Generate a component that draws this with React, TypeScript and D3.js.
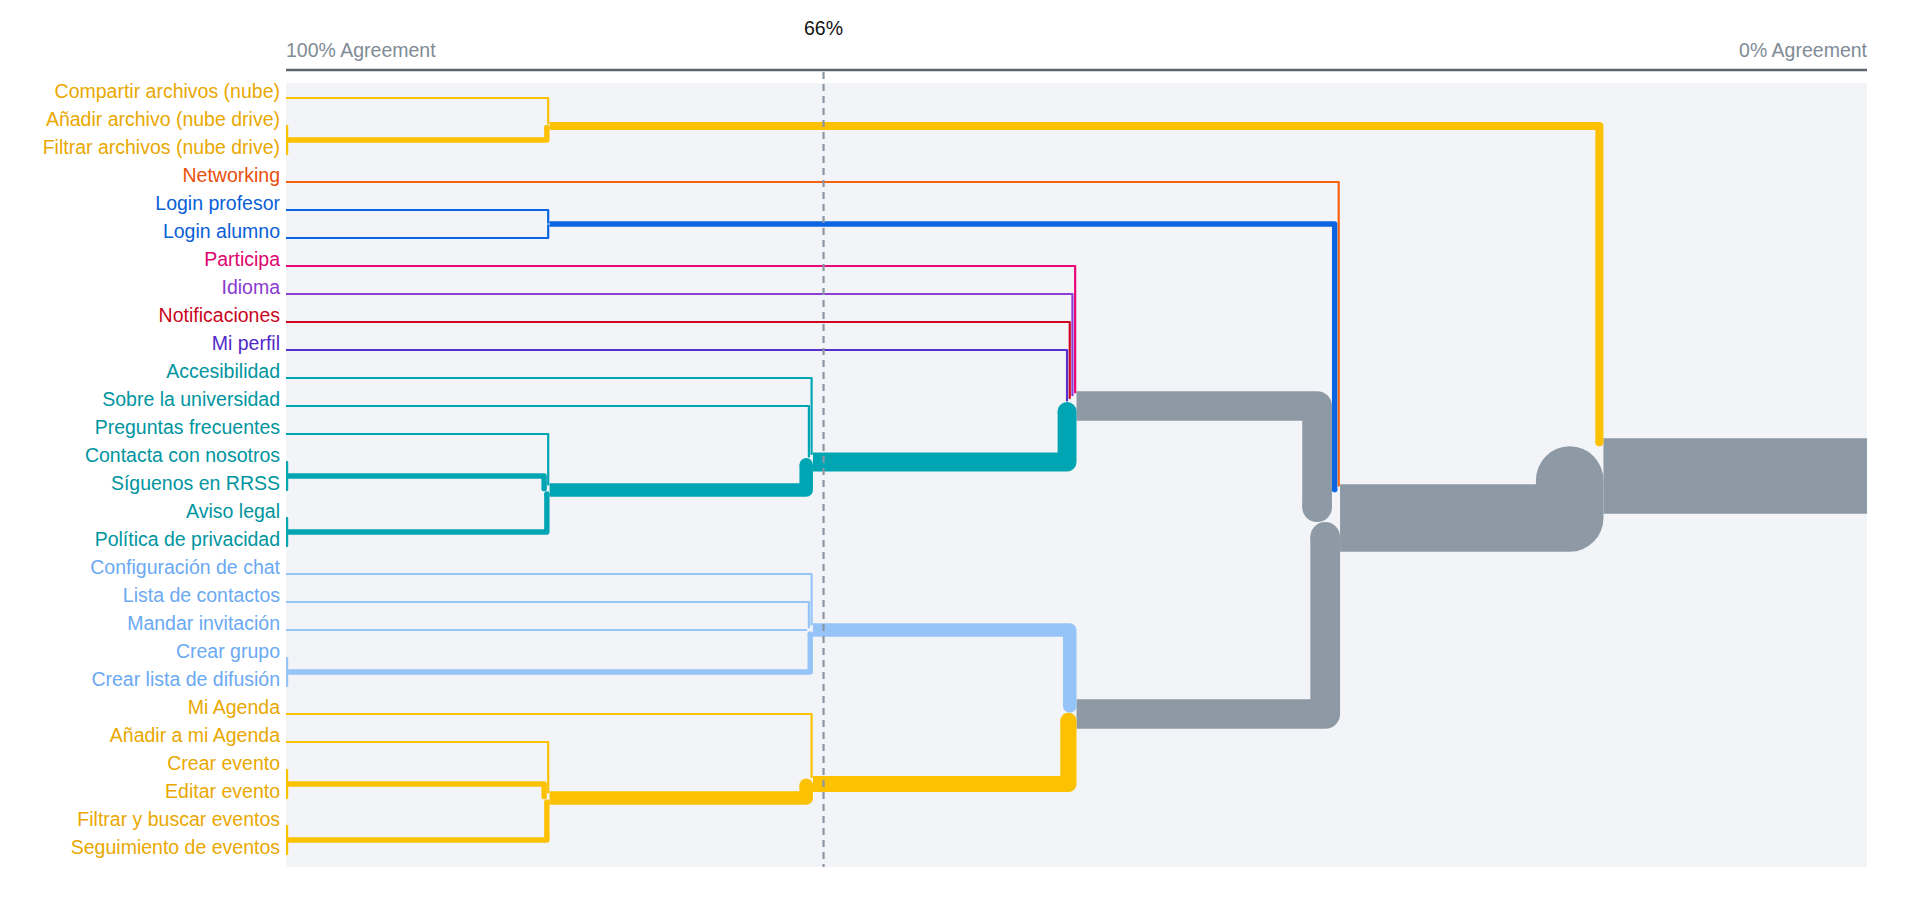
import React from "react";
import * as d3 from "d3";

// ---------- data ----------
const labels: string[] = [
  "Compartir archivos (nube)",
  "Añadir archivo (nube drive)",
  "Filtrar archivos (nube drive)",
  "Networking",
  "Login profesor",
  "Login alumno",
  "Participa",
  "Idioma",
  "Notificaciones",
  "Mi perfil",
  "Accesibilidad",
  "Sobre la universidad",
  "Preguntas frecuentes",
  "Contacta con nosotros",
  "Síguenos en RRSS",
  "Aviso legal",
  "Política de privacidad",
  "Configuración de chat",
  "Lista de contactos",
  "Mandar invitación",
  "Crear grupo",
  "Crear lista de difusión",
  "Mi Agenda",
  "Añadir a mi Agenda",
  "Crear evento",
  "Editar evento",
  "Filtrar y buscar eventos",
  "Seguimiento de eventos",
];

const leafGroups: string[] = [
  "files", "files", "files",
  "networking",
  "login", "login",
  "participa", "idioma", "notif", "perfil",
  "info", "info", "info", "info", "info", "info", "info",
  "chat", "chat", "chat", "chat", "chat",
  "agenda", "agenda", "agenda", "agenda", "agenda", "agenda",
];

// [cluster id, members, agreement % at which they join]
const merges: [string, string[], number][] = [
  ["files2", ["Añadir archivo (nube drive)", "Filtrar archivos (nube drive)"], 100],
  ["files", ["Compartir archivos (nube)", "files2"], 83.33],
  ["login", ["Login profesor", "Login alumno"], 83.33],
  ["contact2", ["Contacta con nosotros", "Síguenos en RRSS"], 100],
  ["legal2", ["Aviso legal", "Política de privacidad"], 100],
  ["info5", ["Preguntas frecuentes", "contact2", "legal2"], 83.33],
  ["info7", ["Accesibilidad", "Sobre la universidad", "info5"], 66.67],
  ["chat2", ["Crear grupo", "Crear lista de difusión"], 100],
  ["chat5", ["Configuración de chat", "Lista de contactos", "Mandar invitación", "chat2"], 66.67],
  ["ev2a", ["Crear evento", "Editar evento"], 100],
  ["ev2b", ["Filtrar y buscar eventos", "Seguimiento de eventos"], 100],
  ["ev5", ["Añadir a mi Agenda", "ev2a", "ev2b"], 83.33],
  ["ev6", ["Mi Agenda", "ev5"], 66.67],
  ["upper", ["Participa", "Idioma", "Notificaciones", "Mi perfil", "info7"], 50],
  ["lower", ["chat5", "ev6"], 50],
  ["main", ["Networking", "login", "upper", "lower"], 33.33],
  ["root", ["files", "main"], 16.67],
];

const threshold = 66;
const axisLeftLabel = "100% Agreement";
const axisRightLabel = "0% Agreement";

// ---------- styles ----------
const groupColors: Record<string, { line: string; text: string }> = {
  files: { line: "#fbc102", text: "#e9a800" },
  networking: { line: "#f5620f", text: "#ea4f0b" },
  login: { line: "#0b65e0", text: "#0a60d8" },
  participa: { line: "#e8087a", text: "#e0046e" },
  idioma: { line: "#8c3fd3", text: "#8a3acf" },
  notif: { line: "#d0061f", text: "#c9061c" },
  perfil: { line: "#5630cc", text: "#5229c6" },
  info: { line: "#00a5b3", text: "#00959f" },
  chat: { line: "#96c4f9", text: "#6ba9f3" },
  agenda: { line: "#fbc102", text: "#e9a800" },
};
const GREY = "#8d99a4";
const FONT = "'Liberation Sans', Arial, Helvetica, sans-serif";

const W = 1920;
const H = 902;
const plotLeft = 286;
const plotRight = 1867;
const plotTop = 83;
const plotBottom = 867;
const axisY = 70;
const UNIT = 2.7;
const LEAF_W = 2.2;

export default function App() {
  const xScale = d3.scaleLinear().domain([100, 0]).range([plotLeft, plotRight]);
  const yScale = d3.scalePoint<string>().domain(labels).range([98, 854]);

  // build tree
  const nodeMap: Record<string, any> = {};
  labels.forEach((l, i) => (nodeMap[l] = { name: l, group: leafGroups[i] }));
  merges.forEach(([id, kids, ag]) => {
    nodeMap[id] = { name: id, agreement: ag, children: kids.map((k) => nodeMap[k]) };
  });
  const root = d3.hierarchy<any>(nodeMap[merges[merges.length - 1][0]]);

  root.each((n: any) => {
    const lv = n.leaves();
    n.n = lv.length;
    n.y = d3.mean(lv, (l: any) => yScale(l.data.name) as number) as number;
    n.start = n.children ? xScale(n.data.agreement) : xScale(100);
    const groups = Array.from(new Set(lv.map((l: any) => l.data.group)));
    n.color = groups.length === 1 ? groupColors[groups[0] as string].line : GREY;
    n.sw = n.children ? UNIT * n.n : LEAF_W;
    n.slot = UNIT * n.n;
  });

  // slice layout for each parent
  root.each((p: any) => {
    if (!p.children) return;
    const X = p.start;
    const kids = [...p.children].sort((a: any, b: any) => a.y - b.y);
    let cursor = p.y - p.slot / 2;
    kids.forEach((c: any) => {
      c.endY = cursor + c.slot / 2;
      cursor += c.slot;
    });
    const above = kids.filter((c: any) => c.y <= c.endY);
    const below = kids.filter((c: any) => c.y > c.endY).reverse();
    [above, below].forEach((set) => {
      let right = X;
      set.forEach((c: any) => {
        c.vx = Math.max(right - c.slot / 2, c.start + c.sw / 2);
        right -= c.slot;
      });
    });
  });

  const nodes = root.descendants();

  return (
    <svg
      width={W}
      height={H}
      style={{ position: "absolute", left: 0, top: 0, display: "block", background: "#fff" }}
      fontFamily={FONT}
    >
      <rect x={plotLeft} y={plotTop} width={plotRight - plotLeft} height={plotBottom - plotTop} fill="#f3f4f7" />
      <line x1={plotLeft} x2={plotRight} y1={axisY} y2={axisY} stroke="#5b6670" strokeWidth={2.5} />
      <text x={plotLeft} y={57} fontSize={19.5} fill="#7f8b96">{axisLeftLabel}</text>
      <text x={plotRight} y={57} fontSize={19.5} fill="#7f8b96" textAnchor="end">{axisRightLabel}</text>

      <g>
        {nodes.map((n: any, i: number) => {
          if (!n.parent) {
            return (
              <path
                key={i}
                d={`M${n.start},${n.y}H${plotRight}`}
                stroke={n.color}
                strokeWidth={n.sw}
                fill="none"
              />
            );
          }
          return (
            <g key={i}>
              <path
                d={`M${n.start},${n.y}H${n.vx}V${n.endY}`}
                stroke={n.color}
                strokeWidth={n.sw}
                fill="none"
                strokeLinejoin="round"
                strokeLinecap="butt"
              />
              <circle cx={n.vx} cy={n.endY} r={n.sw / 2} fill={n.color} />
            </g>
          );
        })}
      </g>

      <line
        x1={xScale(threshold)}
        x2={xScale(threshold)}
        y1={axisY + 2}
        y2={plotBottom}
        stroke="#8a96a3"
        strokeWidth={2.2}
        strokeDasharray="7,5"
      />
      <text x={xScale(threshold)} y={35} fontSize={19.5} fill="#111" textAnchor="middle">
        {threshold}%
      </text>

      <g>
        {labels.map((l, i) => (
          <text
            key={l}
            x={280}
            y={(yScale(l) as number) - 0.5}
            fontSize={19.5}
            textAnchor="end"
            fill={groupColors[leafGroups[i]].text}
          >
            {l}
          </text>
        ))}
      </g>
    </svg>
  );
}
